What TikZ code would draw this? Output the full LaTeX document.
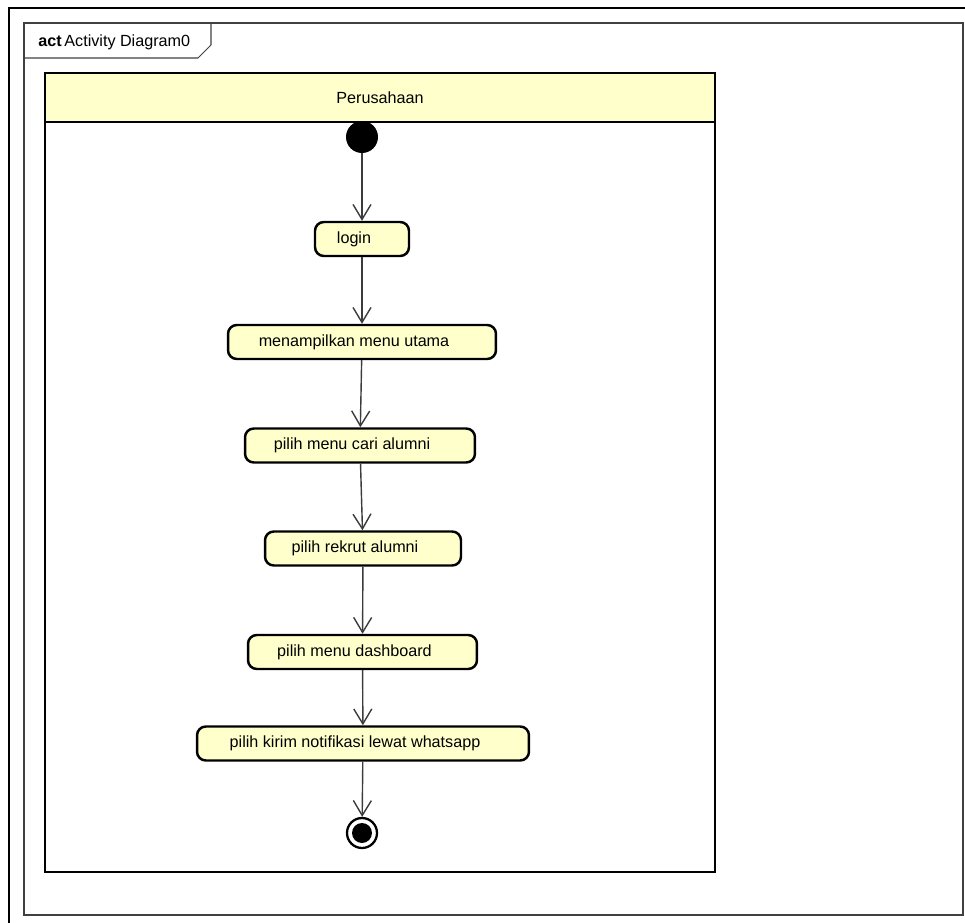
\documentclass[tikz,border=0pt]{standalone}
\usepackage{fontspec}
\setmainfont{Liberation Sans}
\usetikzlibrary{arrows.meta,positioning}
\definecolor{actyellow}{RGB}{255,255,204}
\definecolor{flowgray}{RGB}{60,60,60}

\begin{document}
\begin{tikzpicture}[x=0.02cm,y=-0.02cm,
  font=\fontsize{9.2}{11}\selectfont,
  act/.style={draw,rounded corners=5pt,fill=actyellow,line width=1.4pt,minimum height=0.68cm,inner sep=0pt,execute at begin node={\kern-0.32cm}},
  flow/.style={draw=flowgray,line width=0.8pt,-{Straight Barb[length=0.3cm,width=0.36cm]}}]
  \useasboundingbox (0,0) rectangle (965,923);
  % outer border and frame
  \draw[line width=1pt] (9,923) -- (9,8) -- (965,8);
  \draw[black!75,line width=0.6pt] (24,23) rectangle (963,915);
  \draw[black!75,line width=0.6pt] (24,58) -- (198,58) -- (211,45) -- (211,23);
  \node[anchor=west,inner sep=0pt] at (38,42) (frmlabel) {\textbf{act}\,Activity Diagram0};
  % swimlane
  \draw[line width=1.6pt,fill=actyellow] (45,73) rectangle (715,122);
  \draw[line width=1.6pt] (45,122) rectangle (715,872);
  \node at (380,98) (lane) {Perusahaan};
  % start and end
  \node[circle,fill=black,minimum size=0.64cm,inner sep=0pt] at (362,137) (start) {};
  \node[circle,draw,line width=1.3pt,minimum size=0.6cm,inner sep=0pt,
    path picture={\fill (path picture bounding box.center) circle (0.2cm);}] at (362,833) (end) {};
  % activities
  \node[act,minimum width=1.88cm] at (362,239) (login) {login};
  \node[act,minimum width=5.36cm] at (362,342) (menu) {menampilkan menu utama};
  \node[act,minimum width=4.6cm] at (360,445.5) (cari) {pilih menu cari alumni};
  \node[act,minimum width=3.92cm] at (363,548.5) (rekrut) {pilih rekrut alumni};
  \node[act,minimum width=4.58cm] at (362.5,652) (dash) {pilih menu dashboard};
  \node[act,minimum width=6.64cm] at (363,743.5) (kirim) {pilih kirim notifikasi lewat whatsapp};
  % flows
  \draw[flow] (start) -- (login);
  \draw[flow] (login) -- (menu);
  \draw[flow] (menu) -- (cari);
  \draw[flow] (cari) -- (rekrut);
  \draw[flow] (rekrut) -- (dash);
  \draw[flow] (dash) -- (kirim);
  \draw[flow] (kirim) -- (end);
\end{tikzpicture}
\end{document}
